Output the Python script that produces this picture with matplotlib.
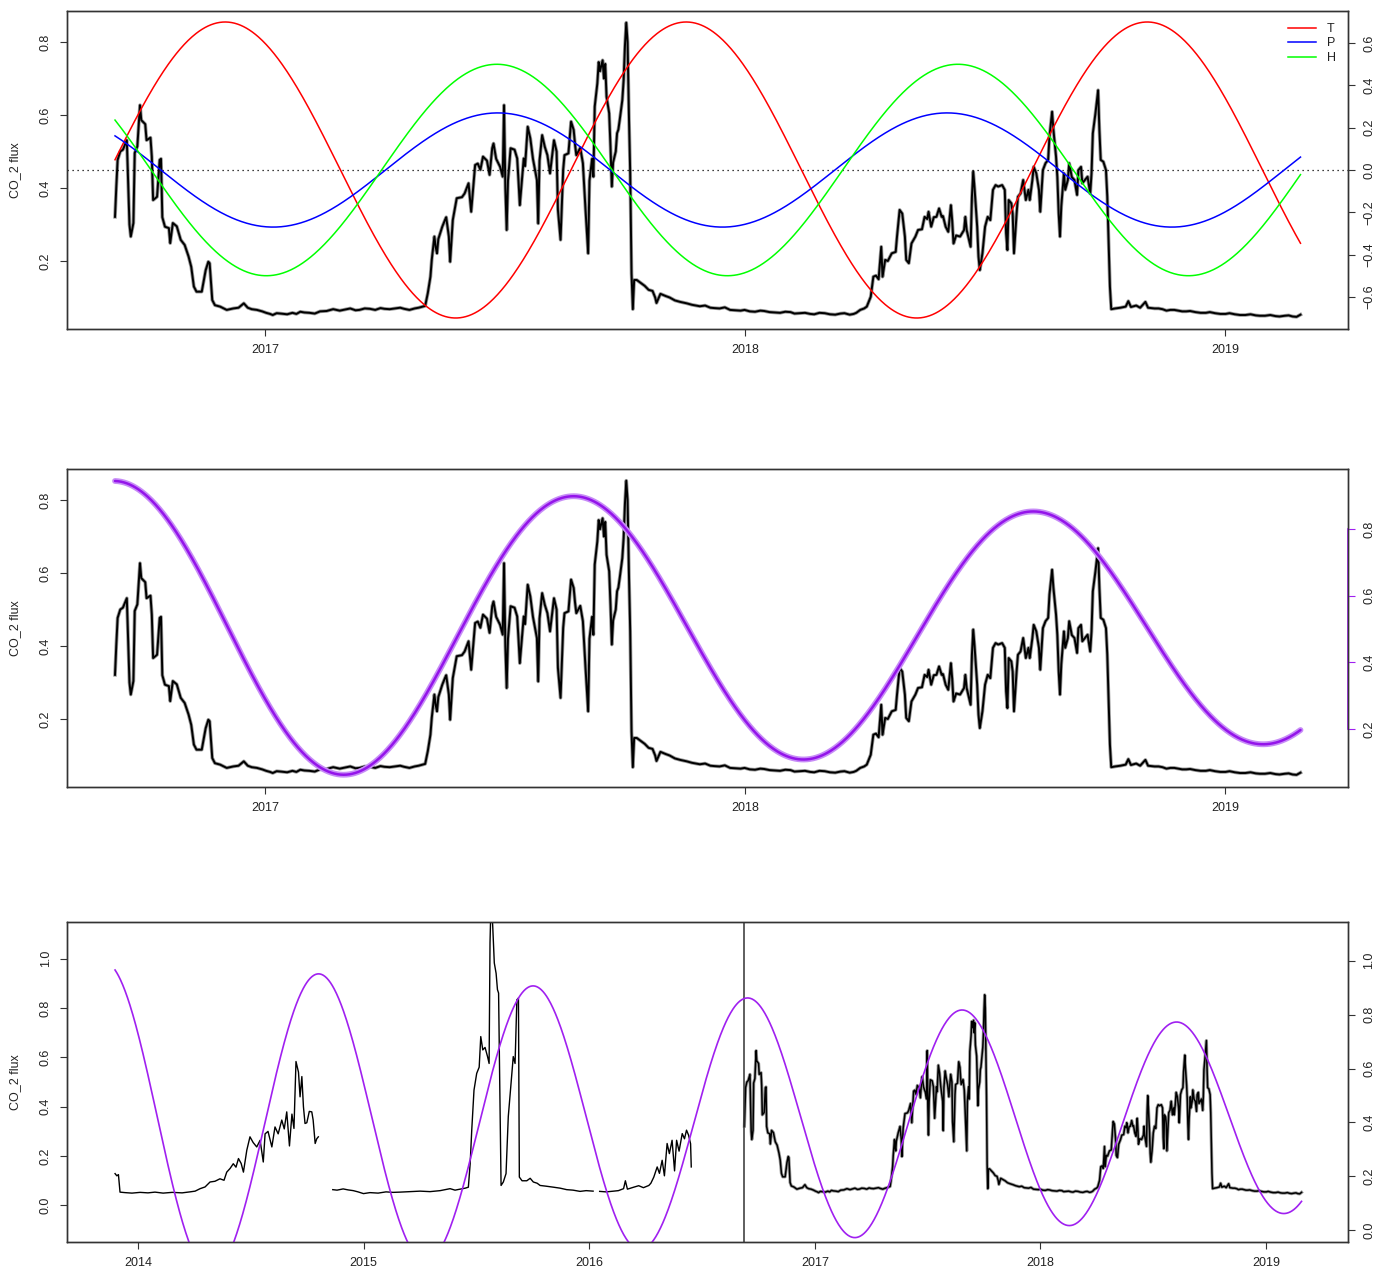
import numpy as np
import matplotlib
matplotlib.use("Agg")
import matplotlib.pyplot as plt
from matplotlib.transforms import blended_transform_factory

plt.rcParams['font.family'] = ['Liberation Sans', 'DejaVu Sans']

# ---------------------------------------------------------------------------
# Main CO2 flux record: days since 2016-09-09 and flux values
# ---------------------------------------------------------------------------
RECORD_START = 2016.6875   # 2016-09-09 as a decimal year

flux_day = [
    0, 1, 2, 4, 6, 9, 11, 12, 14, 15,
    17, 19, 20, 23, 24, 27, 28, 29, 32, 34,
    35, 36, 38, 41, 42, 44, 47, 50, 53, 56,
    58, 60, 62, 66, 69, 71, 72, 74, 76, 80,
    85, 90, 94, 98, 101, 104, 108, 112, 115, 118, 120, 123, 126,
    131, 135, 138, 141, 144, 148, 152, 156, 161, 166, 171, 175, 179, 183, 186, 190, 194, 198,
    202, 205, 209, 213, 217, 220, 224, 228, 231, 236,
    238, 240, 241, 243, 244, 245, 246, 249, 251, 252,
    254, 255, 257, 260, 264, 266, 269, 271, 273, 274,
    276, 278, 280, 283, 285, 287, 288, 290, 293, 295,
    296, 297, 298, 299, 301, 304, 306, 307, 308, 311,
    312, 314, 316, 318, 321, 322, 323, 325, 327, 329,
    331, 334, 336, 337, 339, 341, 342, 345, 347, 349,
    350, 351, 354, 356, 358, 360, 361, 363, 364, 365,
    367, 368, 369, 371, 372, 373, 374, 376, 377, 378,
    379, 381, 382, 383, 384, 386, 387, 388, 389, 390,
    391, 392, 393, 394, 395, 397, 400, 403, 406, 409,
    411, 412, 415, 419, 422, 426, 430, 435, 439, 445, 449,
    453, 456, 460, 464, 468, 472, 476, 479, 483, 487, 491, 494, 498, 502, 506, 510, 514, 517, 521,
    525, 529, 532, 536, 540, 544, 548, 552, 555, 559, 562, 564, 567, 570, 572,
    575, 576, 577, 579, 581, 583, 584, 586, 588, 591,
    594, 595, 597, 599, 601, 602, 604, 606, 609, 611,
    614, 616, 618, 619, 621, 623, 625, 627, 629, 630,
    632, 634, 636, 637, 638, 640, 643, 646, 647, 648,
    651, 652, 653, 654, 656, 657, 658, 660, 662, 664,
    666, 668, 670, 672, 675, 677, 678, 679, 680, 682,
    683, 684, 686, 687, 689, 691, 693, 695, 696, 698,
    699, 701, 703, 704, 706, 708, 710, 711, 713, 714,
    716, 717, 718, 719, 720, 722, 723, 725, 726, 728,
    730, 732, 733, 735, 736, 738, 740, 742, 743, 744,
    746, 748, 749, 750, 752, 754, 755, 757, 758, 761,
    765, 769, 771, 773, 777, 780, 784, 786, 791, 794, 797,
    800, 803, 806, 809, 812, 815, 818, 822, 826, 830, 833, 837, 841, 845, 848, 852, 856, 860, 864, 868,
    871, 875, 879, 883, 886, 890, 893, 896, 899, 902,
]

flux = [
    0.321, 0.404, 0.477, 0.500, 0.505, 0.531, 0.300, 0.267, 0.304, 0.496,
    0.514, 0.627, 0.586, 0.575, 0.531, 0.538, 0.486, 0.367, 0.376, 0.477,
    0.480, 0.320, 0.294, 0.290, 0.249, 0.304, 0.295, 0.258, 0.244, 0.212,
    0.184, 0.130, 0.116, 0.116, 0.175, 0.198, 0.194, 0.093, 0.079, 0.075,
    0.066, 0.070, 0.072, 0.084, 0.072, 0.068, 0.066, 0.062, 0.058, 0.055, 0.052, 0.057, 0.056,
    0.054, 0.058, 0.055, 0.061, 0.059, 0.058, 0.056, 0.062, 0.063, 0.068, 0.064, 0.067, 0.070, 0.065, 0.066, 0.070, 0.069, 0.066,
    0.071, 0.069, 0.068, 0.070, 0.072, 0.069, 0.066, 0.070, 0.072, 0.077,
    0.112, 0.157, 0.203, 0.267, 0.238, 0.221, 0.260, 0.294, 0.312, 0.320,
    0.267, 0.198, 0.312, 0.372, 0.375, 0.385, 0.413, 0.335, 0.422, 0.463,
    0.467, 0.450, 0.486, 0.475, 0.436, 0.509, 0.522, 0.480, 0.458, 0.431,
    0.627, 0.400, 0.285, 0.420, 0.509, 0.505, 0.481, 0.420, 0.353, 0.481,
    0.460, 0.568, 0.536, 0.480, 0.422, 0.303, 0.475, 0.545, 0.513, 0.490,
    0.440, 0.531, 0.500, 0.340, 0.258, 0.450, 0.490, 0.495, 0.582, 0.559,
    0.520, 0.490, 0.510, 0.468, 0.340, 0.221, 0.420, 0.480, 0.431, 0.623,
    0.687, 0.745, 0.720, 0.750, 0.700, 0.740, 0.650, 0.605, 0.513, 0.404,
    0.470, 0.500, 0.550, 0.560, 0.586, 0.641, 0.696, 0.790, 0.853, 0.800,
    0.605, 0.440, 0.166, 0.068, 0.148, 0.148, 0.140, 0.132, 0.121, 0.118,
    0.100, 0.085, 0.110, 0.104, 0.100, 0.092, 0.088, 0.084, 0.080, 0.076, 0.078,
    0.072, 0.071, 0.070, 0.073, 0.066, 0.065, 0.064, 0.066, 0.062, 0.061, 0.064, 0.063, 0.060, 0.059, 0.058, 0.061, 0.060, 0.056, 0.057,
    0.058, 0.055, 0.054, 0.058, 0.057, 0.054, 0.053, 0.056, 0.057, 0.053, 0.055, 0.058, 0.066, 0.070, 0.075,
    0.102, 0.130, 0.157, 0.160, 0.150, 0.239, 0.157, 0.203, 0.200, 0.221,
    0.225, 0.267, 0.340, 0.330, 0.267, 0.203, 0.194, 0.248, 0.267, 0.285,
    0.287, 0.321, 0.315, 0.335, 0.294, 0.320, 0.321, 0.344, 0.321, 0.323,
    0.294, 0.280, 0.353, 0.310, 0.248, 0.270, 0.267, 0.285, 0.321, 0.285,
    0.239, 0.376, 0.445, 0.400, 0.294, 0.212, 0.175, 0.221, 0.294, 0.321,
    0.312, 0.395, 0.408, 0.404, 0.408, 0.395, 0.276, 0.230, 0.367, 0.358,
    0.330, 0.221, 0.330, 0.376, 0.385, 0.422, 0.367, 0.395, 0.367, 0.422,
    0.458, 0.440, 0.395, 0.335, 0.449, 0.468, 0.477, 0.541, 0.609, 0.560,
    0.486, 0.430, 0.331, 0.267, 0.350, 0.440, 0.395, 0.422, 0.468, 0.430,
    0.422, 0.381, 0.449, 0.458, 0.413, 0.422, 0.431, 0.385, 0.440, 0.550,
    0.605, 0.668, 0.559, 0.477, 0.472, 0.449, 0.376, 0.130, 0.068, 0.070,
    0.072, 0.075, 0.090, 0.074, 0.078, 0.072, 0.088, 0.072, 0.070, 0.070, 0.068,
    0.064, 0.066, 0.066, 0.064, 0.062, 0.062, 0.063, 0.060, 0.058, 0.058, 0.060, 0.057, 0.055, 0.055, 0.057, 0.054, 0.052, 0.052, 0.054, 0.051,
    0.050, 0.050, 0.052, 0.049, 0.048, 0.050, 0.051, 0.048, 0.047, 0.053,
]

# ---------------------------------------------------------------------------
# Earlier measurement campaigns (decimal year, flux)
# ---------------------------------------------------------------------------
camp1_year = [
    2013.898, 2013.906, 2013.913, 2013.920, 2013.942, 2013.973, 2014.009, 2014.044, 2014.075, 2014.111,
    2014.151, 2014.195, 2014.230, 2014.253, 2014.275, 2014.297, 2014.319, 2014.341, 2014.363, 2014.381,
    2014.393, 2014.408, 2014.422, 2014.434, 2014.445, 2014.457, 2014.467, 2014.482, 2014.496, 2014.510,
    2014.526, 2014.541, 2014.555, 2014.563, 2014.576, 2014.593, 2014.607, 2014.621, 2014.637, 2014.648,
    2014.659, 2014.671, 2014.682, 2014.691, 2014.700, 2014.711, 2014.718, 2014.726, 2014.733, 2014.740,
    2014.748, 2014.759, 2014.770, 2014.776, 2014.785, 2014.792, 2014.799,
]
camp1_flux = [
    0.129, 0.120, 0.125, 0.054, 0.052, 0.050, 0.053, 0.051, 0.054, 0.050,
    0.053, 0.051, 0.055, 0.058, 0.068, 0.075, 0.095, 0.098, 0.108, 0.102,
    0.135, 0.150, 0.169, 0.155, 0.190, 0.170, 0.135, 0.224, 0.278, 0.255,
    0.237, 0.264, 0.176, 0.290, 0.300, 0.237, 0.318, 0.290, 0.346, 0.310,
    0.379, 0.241, 0.370, 0.312, 0.583, 0.540, 0.440, 0.522, 0.400, 0.332,
    0.335, 0.381, 0.379, 0.346, 0.251, 0.270, 0.278,
]

camp2_year = [
    2014.863, 2014.882, 2014.909, 2014.931, 2014.954, 2014.975, 2014.999, 2015.028, 2015.064, 2015.099,
    2015.130, 2015.161, 2015.206, 2015.250, 2015.294, 2015.339, 2015.383, 2015.405, 2015.427, 2015.450,
    2015.464, 2015.472, 2015.479, 2015.489, 2015.501, 2015.512, 2015.519, 2015.528, 2015.538, 2015.549,
    2015.556, 2015.560, 2015.565, 2015.572, 2015.579, 2015.587, 2015.593, 2015.598, 2015.605, 2015.609,
    2015.619, 2015.631, 2015.641, 2015.652, 2015.663, 2015.671, 2015.679, 2015.686, 2015.690, 2015.702,
    2015.723, 2015.738, 2015.752, 2015.769, 2015.782, 2015.809, 2015.841, 2015.871, 2015.900, 2015.928,
    2015.959, 2015.986, 2016.017,
]
camp2_flux = [
    0.064, 0.062, 0.067, 0.063, 0.060, 0.055, 0.048, 0.052, 0.050, 0.055,
    0.053, 0.054, 0.056, 0.058, 0.056, 0.060, 0.068, 0.062, 0.066, 0.070,
    0.074, 0.169, 0.305, 0.467, 0.535, 0.560, 0.684, 0.630, 0.640, 0.603,
    0.575, 1.064, 1.250, 1.131, 0.982, 0.940, 0.874, 0.860, 0.359, 0.081,
    0.095, 0.129, 0.360, 0.481, 0.603, 0.575, 0.833, 0.840, 0.115, 0.100,
    0.100, 0.110, 0.095, 0.090, 0.081, 0.078, 0.074, 0.070, 0.064, 0.062,
    0.057, 0.060, 0.058,
]

camp3_year = [
    2016.046, 2016.075, 2016.108, 2016.129, 2016.152, 2016.160, 2016.169, 2016.197, 2016.219, 2016.240,
    2016.264, 2016.273, 2016.286, 2016.301, 2016.311, 2016.323, 2016.333, 2016.345, 2016.355, 2016.367,
    2016.378, 2016.387, 2016.398, 2016.412, 2016.422, 2016.431, 2016.440, 2016.449, 2016.452,
]
camp3_flux = [
    0.057, 0.055, 0.058, 0.060, 0.068, 0.100, 0.066, 0.074, 0.080, 0.072,
    0.081, 0.090, 0.115, 0.156, 0.130, 0.183, 0.120, 0.251, 0.210, 0.264,
    0.140, 0.264, 0.220, 0.291, 0.270, 0.305, 0.285, 0.250, 0.156,
]

# ---------------------------------------------------------------------------
# Seasonal harmonic fits: (amplitude, time of peak [yr], period [yr])
# ---------------------------------------------------------------------------
harm_names = ['T', 'P', 'H']
harm_colors = ['#ff0000', '#0000ff', '#00ff00']
harm_amp = [0.70, 0.27, 0.50]
harm_peak = [2016.917, 2017.485, 2017.483]
harm_period = [0.9604, 0.936, 0.9604]

# Damped harmonic models: mean, amplitude at peak, amplitude decay per year,
# time of peak, period
damped_mid = dict(mean=0.492, amp=0.452, decay=0.0477, peak=2016.6875, period=0.958)
damped_long = dict(mean=0.406, amp=0.456, decay=0.047, peak=2016.704, period=0.951)

PURPLE = '#a020f0'
EDGE = '#333333'

# ---------------------------------------------------------------------------
flux_year = RECORD_START + np.asarray(flux_day) / 365.25
flux = np.asarray(flux)

fig = plt.figure(figsize=(13.94, 12.67), dpi=100)
W, H = 1394.0, 1267.0


def add_axes(top, bottom):
    return fig.add_axes([67 / W, 1 - bottom / H, 1281 / W, (bottom - top) / H])


def style(ax):
    for s in ax.spines.values():
        s.set_linewidth(1.0)
        s.set_color(EDGE)
    ax.tick_params(direction='out', length=5, width=0.8, color=EDGE,
                   labelsize=9, labelcolor='#222222', pad=6)
    ax.tick_params(axis='y', labelrotation=90)
    for lbl in ax.get_yticklabels():
        lbl.set_va('center')


def draw_flux(ax, x, y, halo=2.6, core=1.4):
    ax.plot(x, y, color='#999999', lw=halo, solid_joinstyle='round', zorder=2)
    ax.plot(x, y, color='black', lw=core, solid_joinstyle='round', zorder=3)


def damped(t, p):
    dt = t - p['peak']
    return p['mean'] + (p['amp'] - p['decay'] * dt) * np.cos(2 * np.pi * dt / p['period'])


t_rec = np.linspace(flux_year[0], flux_year[-1], 1200)

# ----------------------------- top panel ----------------------------------
ax1 = add_axes(11, 329)
ax1.set_xlim(2016.5875, 2019.256)
ax1.set_ylim(0.0137, 0.885)
draw_flux(ax1, flux_year, flux)
ax1.set_yticks([0.2, 0.4, 0.6, 0.8])
ax1.set_xticks([2017, 2018, 2019])
ax1.set_xticklabels(['2017', '2018', '2019'])
style(ax1)

ax1r = ax1.twinx()
ax1r.set_ylim(-0.752, 0.752)
ax1r.axhline(0, color='black', lw=0.9, ls=(0, (1, 3)))
handles = []
for name, col, a, pk, per in zip(harm_names, harm_colors, harm_amp, harm_peak, harm_period):
    ln, = ax1r.plot(t_rec, a * np.cos(2 * np.pi * (t_rec - pk) / per), color=col, lw=1.1)
    handles.append(ln)
ax1r.set_yticks([-0.6, -0.4, -0.2, 0.0, 0.2, 0.4, 0.6])
style(ax1r)
leg = ax1r.legend(handles, harm_names, loc='upper right', frameon=False, fontsize=9,
                  handlelength=2.2, handletextpad=0.9, labelspacing=0.2,
                  borderaxespad=0.55)
for txt in leg.get_texts():
    txt.set_color('#222222')

# ----------------------------- middle panel -------------------------------
ax2 = add_axes(469, 787)
ax2.set_xlim(2016.5875, 2019.256)
ax2.set_ylim(0.0137, 0.885)
draw_flux(ax2, flux_year, flux)
ax2.set_yticks([0.2, 0.4, 0.6, 0.8])
ax2.set_xticks([2017, 2018, 2019])
ax2.set_xticklabels(['2017', '2018', '2019'])
style(ax2)

ax2r = ax2.twinx()
ax2r.set_ylim(0.026, 0.980)
mid_curve = damped(t_rec, damped_mid)
ax2r.plot(t_rec, mid_curve, color='#c78cf7', lw=4.2, solid_capstyle='round')
ax2r.plot(t_rec, mid_curve, color='#9414ea', lw=1.8, solid_capstyle='round')
ax2r.set_yticks([0.2, 0.4, 0.6, 0.8])
style(ax2r)
ax2r.tick_params(axis='y', color=PURPLE)
trans = blended_transform_factory(ax2r.transAxes, ax2r.transData)
ax2r.plot([1, 1], [0.2, 0.8], color=PURPLE, lw=1.2, transform=trans, clip_on=False)

# ----------------------------- bottom panel -------------------------------
ax3 = add_axes(922, 1242)
ax3.set_xlim(2013.685, 2019.363)
ax3.set_ylim(-0.148, 1.148)
for yr, fl in [(camp1_year, camp1_flux), (camp2_year, camp2_flux), (camp3_year, camp3_flux)]:
    ax3.plot(yr, fl, color='black', lw=1.0, zorder=3)
draw_flux(ax3, flux_year, flux, halo=2.3, core=1.1)
ax3.axvline(RECORD_START, color=EDGE, lw=1.1, zorder=4)
ax3.set_yticks([0.0, 0.2, 0.4, 0.6, 0.8, 1.0])
ax3.set_xticks([2014, 2015, 2016, 2017, 2018, 2019])
ax3.set_xticklabels(['2014', '2015', '2016', '2017', '2018', '2019'])
style(ax3)

ax3r = ax3.twinx()
ax3r.set_ylim(-0.044, 1.144)
t_long = np.linspace(camp1_year[0], flux_year[-1], 2000)
ax3r.plot(t_long, damped(t_long, damped_long), color=PURPLE, lw=1.2)
ax3r.set_yticks([0.0, 0.2, 0.4, 0.6, 0.8, 1.0])
style(ax3r)

# y-axis titles
for top, bottom in [(11, 329), (469, 787), (922, 1242)]:
    fig.text(15 / W, 1 - (top + bottom) / 2 / H, 'CO_2 flux', rotation=90,
             ha='center', va='center', fontsize=9, color='#222222')

fig.savefig('out.png', dpi=100)
